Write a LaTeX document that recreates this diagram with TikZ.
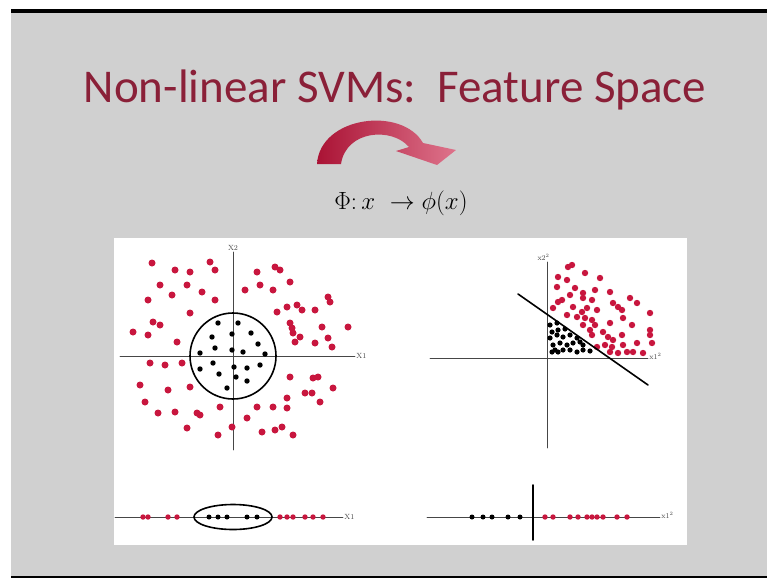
\documentclass[tikz,border=0pt]{standalone}
\usepackage{fontspec}
\newfontfamily\slidefont{Carlito}
\definecolor{slidegray}{RGB}{208,208,208}
\definecolor{titlered}{RGB}{138,32,56}
\definecolor{dotred}{RGB}{200,22,62}
\definecolor{axisgray}{RGB}{70,70,70}
\tikzset{
  reddot/.style={fill=dotred},
  blackdot/.style={fill=black},
  axis/.style={draw=axisgray, line width=0.8pt},
  lbl/.style={font=\fontsize{7.5}{8}\selectfont, text=axisgray, inner sep=1pt}
}
\begin{document}
\begin{tikzpicture}[x=1pt, y=-1pt, line join=round, line cap=round]
	% frame of the slide
	\useasboundingbox (0,0) rectangle (767,578);
	\fill[white] (0,0) rectangle (767,578);
	\fill[slidegray] (11,13) rectangle (767,576);
	\fill[black] (11,9) rectangle (767,13.5);
	\fill[black] (11,576) rectangle (767,578);
	\fill[white] (114,238) rectangle (687,545);
	% title and map
	\node[anchor=base, text=titlered, font=\slidefont\fontsize{47}{52}\selectfont] (title) at (395,102) {Non-linear SVMs:\ \ Feature Space};
	\shade[left color=dotred!85!black, right color=dotred!60!white]
		(317,164) .. controls (320,116) and (402,106) .. (423,143)
		-- (456,150) -- (437,165) -- (396,151) -- (409,147)
		.. controls (392,127) and (346,130) .. (341,164) -- cycle;
	\node[anchor=base, font=\fontsize{26}{28}\selectfont] (map) at (401,209) {$\Phi{:}\,x\ \rightarrow \phi(x)$};
	% input space, two features
	\draw[axis] (120,356) -- (355,356) node[lbl, right] (xa) {X1};
	\draw[axis] (233,450) -- (233,252) node[lbl, above] (xb) {X2};
	\foreach \x/\y in {152/263,175/270,190/272,210/262,215/270,257/272,275/267,280/270,290/282,160/285,
		187/285,172/295,202/292,215/300,245/290,260/285,273/290,148/300,328/297,330/302,
		287/307,297/305,302/310,277/312,315/310,190/313,153/322,160/325,290/323,292/328,
		293/333,300/337,322/327,348/327,133/332,148/335,177/342,295/342,315/343,328/338,
		332/347,150/363,165/365,182/363,140/385,168/390,190/387,290/377,313/378,318/377,
		333/388,145/402,158/413,175/412,197/413,200/415,220/407,257/407,273/407,287/408,
		287/398,305/393,312/393,320/402,247/418,232/427,187/428,218/435,262/432,275/430,
		282/427,293/435}
		\fill[reddot] (\x,\y) circle (3.5pt);
	\foreach \x/\y in {218/323,238/323,212/337,232/334,251/333,258/344,215/348,232/350,243/352,200/353,
		265/354,213/363,234/367,247/368,200/369,260/365,219/374,236/377,247/381,227/388}
		\fill[blackdot] (\x,\y) circle (2.7pt);
	\draw[line width=1.6pt] (233,356) circle (43pt);
	% feature space, squared features
	\draw[axis] (430,358) -- (648,358) node[lbl, right, yshift=2pt] (xc) {x1$^2$};
	\draw[axis] (547,448) -- (547,262) node[lbl, above left, xshift=4pt] (xd) {x2$^2$};
	\foreach \x/\y in {572/265,568/267,558/277,567/280,585/273,600/278,557/287,575/288,583/293,595/290,
		610/292,570/295,583/298,592/300,553/308,558/302,562/300,573/307,587/308,597/310,
		613/303,618/307,622/310,630/298,637/303,567/315,577/317,585/318,592/320,595/325,
		610/323,623/318,650/313,632/325,583/325,590/330,603/332,608/337,613/340,622/335,
		650/330,650/335,605/345,612/347,623/345,637/343,652/343,610/352,618/353,627/352,
		633/352,643/353,597/347,592/335,582/312}
		\fill[reddot] (\x,\y) circle (3.2pt);
	\foreach \x/\y in {550/325,557/323,552/332,558/330,565/329,550/338,557/335,563/337,570/335,577/338,
		553/345,560/343,567/345,573/343,580/342,552/352,558/352,563/350,570/350,577/352,
		583/350,590/351,583/345,555/350}
		\fill[blackdot] (\x,\y) circle (2.6pt);
	\coordinate (sepa) at (518,294);
	\coordinate (sepb) at (648,385);
	\draw[line width=1.6pt] (sepa) -- (sepb);
	% one feature
	\draw[axis] (115,517) -- (343,517) node[lbl, right] (xe) {X1};
	\foreach \x in {143,148,168,177,280,287,293,305,313,323}
		\fill[reddot] (\x,517) circle (2.7pt);
	\foreach \x in {209,218,227,247,257}
		\fill[blackdot] (\x,517) circle (2.5pt);
	\draw[line width=1.6pt] (233,517) ellipse (39pt and 12.5pt);
	% one squared feature
	\draw[axis] (427,517) -- (660,517) node[lbl, right, yshift=2pt] (xf) {x1$^2$};
	\foreach \x in {472,483,492,508,520}
		\fill[blackdot] (\x,517) circle (2.5pt);
	\foreach \x in {545,553,570,578,587,592,597,603,617,627}
		\fill[reddot] (\x,517) circle (2.7pt);
	\coordinate (cuta) at (533,485);
	\coordinate (cutb) at (533,540);
	\draw[line width=1.6pt] (cuta) -- (cutb);
\end{tikzpicture}
\end{document}
